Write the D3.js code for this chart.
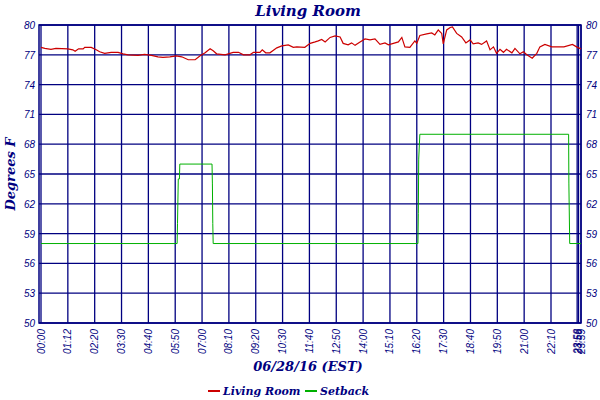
<!DOCTYPE html>
<html><head><meta charset="utf-8">
<script src="https://cdn.jsdelivr.net/npm/d3@7"></script>
<style>body{margin:0;background:#fff}</style>
</head><body>
<svg id="c" width="600" height="400"></svg>
<script>
const yTicks = [50,53,56,59,62,65,68,71,74,77,80];
const xTickMinutes = [0,70,140,210,280,350,420,490,560,630,700,770,840,910,980,1050,1120,1190,1260,1330,1425,1430,1439];
const xTickLabels = ["00:00","01:12","02:20","03:30","04:40","05:50","07:00","08:10","09:20","10:30","11:40","12:50","14:00","15:10","16:20","17:30","18:40","19:50","21:00","22:10","23:58","23:59","23:59"];
const livingMinutes = [0,10,26,39,70,83,89,98,110,114,131,144,153,166,183,201,214,227,253,270,288,305,318,336,353,367,384,402,415,428,441,449,458,480,501,515,528,545,554,571,577,586,597,615,628,645,658,667,688,702,715,723,732,741,754,767,780,788,801,810,819,832,845,858,871,884,897,906,919,932,941,949,962,975,980,988,1006,1019,1027,1036,1045,1049,1058,1067,1073,1084,1097,1108,1119,1127,1140,1149,1162,1171,1180,1188,1197,1206,1214,1228,1236,1249,1258,1267,1281,1293,1301,1314,1333,1377,1408,1426,1439];
const livingTemps = [77.75,77.65,77.55,77.65,77.6,77.5,77.35,77.6,77.6,77.75,77.75,77.5,77.3,77.15,77.25,77.25,77.1,77.0,76.95,77.05,76.95,76.8,76.75,76.8,76.9,76.8,76.5,76.5,76.9,77.2,77.6,77.4,77.1,77.0,77.25,77.25,77.0,77.0,77.25,77.25,77.5,77.2,77.2,77.7,77.9,78.0,77.75,77.8,77.75,78.15,78.3,78.4,78.55,78.3,78.75,78.9,78.8,78.15,78.0,78.2,77.95,78.3,78.6,78.5,78.6,78.05,78.2,78.0,78.15,78.3,78.75,77.8,77.75,78.4,78.15,78.95,79.1,79.2,79.0,79.5,79.15,78.1,79.5,79.75,79.8,79.15,78.8,78.2,78.5,78.1,78.2,78.05,78.4,77.5,77.8,77.15,77.55,77.25,77.55,77.2,77.65,77.1,77.3,77.0,76.65,77.15,77.8,78.05,77.8,77.8,78.05,77.75,77.6];
const setbackMinutes = [0,355,356,358,361,362,446,447,448,449,983,984,985,988,1394,1395,1398,1439];
const setbackTemps = [58,58,60,64.5,64.5,66,66,64,60,58,58,61,66.5,69,69,64,58,58];

const navy = "#000080";
const svg = d3.select("#c");
const x = d3.scaleLinear().domain([0,1330,1439]).range([41,551,581]);
const y = d3.scaleLinear().domain([50,80]).range([323,25]);

svg.append("rect").attr("x",39).attr("y",25).attr("width",542).attr("height",298)
  .attr("fill","none").attr("stroke",navy).attr("stroke-width",1.5);
svg.append("g").selectAll("line").data(xTickMinutes).join("line")
  .attr("x1",d=>x(d)).attr("x2",d=>x(d)).attr("y1",25).attr("y2",323)
  .attr("stroke",navy).attr("stroke-width",1.3);
svg.append("g").selectAll("line").data(yTicks).join("line")
  .attr("x1",39).attr("x2",581).attr("y1",d=>y(d)).attr("y2",d=>y(d))
  .attr("stroke",navy).attr("stroke-width",1.3);

const tf = "'Liberation Sans', Arial, sans-serif";
svg.append("g").selectAll("text").data(yTicks).join("text")
  .attr("x",35).attr("y",d=>y(d)+4).attr("text-anchor","end")
  .attr("font-family",tf).attr("font-style","italic").attr("font-size",10).attr("fill",navy).text(d=>d);
svg.append("g").selectAll("text").data(yTicks).join("text")
  .attr("x",586).attr("y",d=>y(d)+4).attr("text-anchor","start")
  .attr("font-family",tf).attr("font-style","italic").attr("font-size",10).attr("fill",navy).text(d=>d);
svg.append("g").selectAll("text").data(xTickMinutes).join("text")
  .attr("transform",(d)=>`translate(${x(d)+3.5},329) rotate(-90)`).attr("text-anchor","end")
  .attr("font-family",tf).attr("font-style","italic").attr("font-size",10).attr("fill",navy)
  .text((d,i)=>xTickLabels[i]);

const line = d3.line().x(d=>x(d[0])).y(d=>y(d[1]));
svg.append("path").datum(setbackMinutes.map((m,i)=>[m,setbackTemps[i]]))
  .attr("d",line).attr("fill","none").attr("stroke","#00b000").attr("stroke-width",1);
svg.append("path").datum(livingMinutes.map((m,i)=>[m,livingTemps[i]]))
  .attr("d",line).attr("fill","none").attr("stroke","#cc0000").attr("stroke-width",1.2);

const sf = "'DejaVu Serif', serif";
svg.append("text").attr("x",308).attr("y",16).attr("text-anchor","middle")
  .attr("font-family",sf).attr("font-style","italic").attr("font-weight","bold").attr("font-size",15).attr("fill",navy).text("Living Room");
svg.append("text").attr("x",308).attr("y",371).attr("text-anchor","middle")
  .attr("font-family",sf).attr("font-style","italic").attr("font-weight","bold").attr("font-size",13).attr("fill",navy).text("06/28/16 (EST)");
svg.append("text").attr("transform","translate(15,174) rotate(-90)").attr("text-anchor","middle")
  .attr("font-family",sf).attr("font-style","italic").attr("font-weight","bold").attr("font-size",13).attr("fill",navy).text("Degrees F");

const legend = [["Living Room","#cc0000",208],["Setback","#00b000",305]];
legend.forEach(([name,col,lx])=>{
  svg.append("line").attr("x1",lx).attr("x2",lx+12).attr("y1",391).attr("y2",391).attr("stroke",col).attr("stroke-width",2);
  svg.append("text").attr("x",lx+15).attr("y",395).attr("font-family",sf).attr("font-style","italic").attr("font-weight","bold")
    .attr("font-size",11).attr("fill",navy).text(name);
});
</script>
</body></html>
